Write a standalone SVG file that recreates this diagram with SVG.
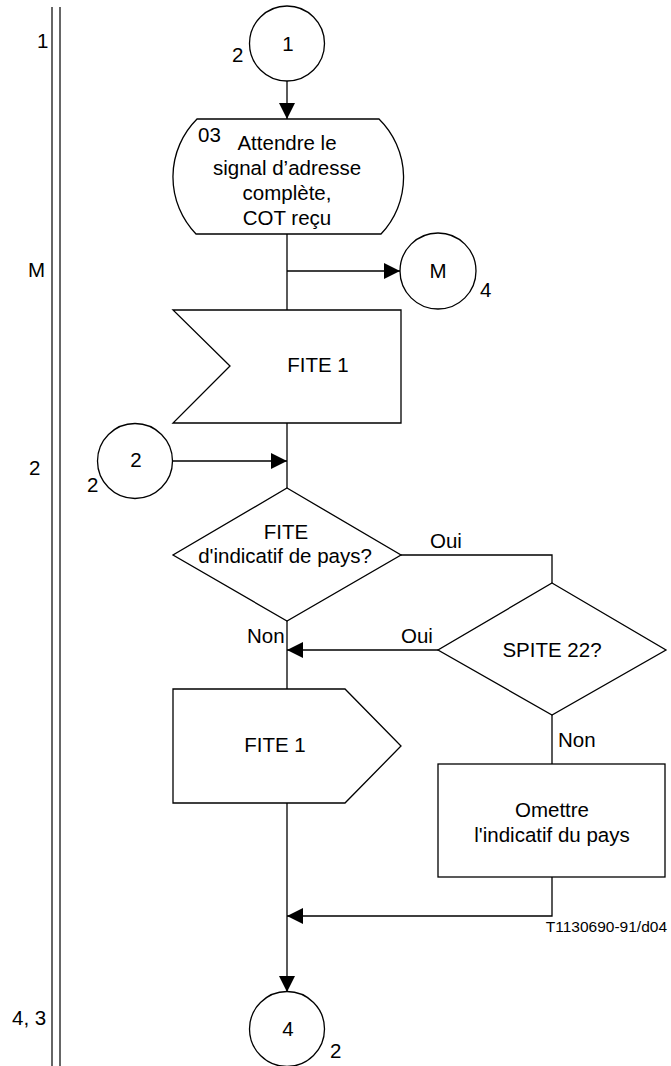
<svg xmlns="http://www.w3.org/2000/svg" width="671" height="1066" viewBox="0 0 671 1066">
<defs>
<style>
.s{fill:#fff;stroke:#000;stroke-width:1.3}
.c{fill:none;stroke:#000;stroke-width:1.3}
.t{font-family:"Liberation Sans",Arial,sans-serif;font-size:20.5px;fill:#000}
.m{text-anchor:middle}
.e{text-anchor:end}
.sm{font-family:"Liberation Sans",Arial,sans-serif;font-size:15.5px;fill:#000}
</style>
<marker id="ah" markerUnits="userSpaceOnUse" markerWidth="16" markerHeight="16" refX="16" refY="8" orient="auto">
<path d="M0,0 L16,8 L0,16 Z" fill="#000"/>
</marker>
</defs>
<rect width="671" height="1066" fill="#fff"/>
<g id="margin">
<line x1="52" y1="7" x2="52" y2="1066" stroke="#333" stroke-width="1.5"/>
<line x1="60" y1="7" x2="60" y2="1066" stroke="#333" stroke-width="1.5"/>
<text class="t" x="37" y="48">1</text>
<text class="t" x="28" y="277">M</text>
<text class="t" x="29" y="475">2</text>
<text class="t" x="12" y="1025">4, 3</text>
</g>
<g id="connectors">
<line class="c" x1="287" y1="81" x2="287" y2="119" marker-end="url(#ah)"/>
<line class="c" x1="287" y1="234" x2="287" y2="310"/>
<line class="c" x1="287" y1="271" x2="400" y2="271" marker-end="url(#ah)"/>
<line class="c" x1="287" y1="423" x2="287" y2="488"/>
<line class="c" x1="173" y1="461" x2="287" y2="461" marker-end="url(#ah)"/>
<polyline class="c" points="401,555 552,555 552,583"/>
<line class="c" x1="438" y1="650" x2="287" y2="650" marker-end="url(#ah)"/>
<line class="c" x1="287" y1="621" x2="287" y2="689"/>
<line class="c" x1="552" y1="715" x2="552" y2="764"/>
<polyline class="c" points="552,877 552,916 287,916" marker-end="url(#ah)"/>
<line class="c" x1="287" y1="803" x2="287" y2="992" marker-end="url(#ah)"/>
<text class="t" x="430" y="548">Oui</text>
<text class="t" x="401" y="643">Oui</text>
<text class="t" x="247" y="643">Non</text>
<text class="t" x="558" y="747">Non</text>
</g>
<g id="start1">
<circle class="s" cx="287" cy="43.5" r="37.5"/>
<text class="t m" x="288" y="51">1</text>
<text class="t" x="232" y="62">2</text>
</g>
<g id="wait03">
<path class="s" d="M197,119 H379 A82,82 0 0 1 381,234 H196 A82,82 0 0 1 197,119 Z"/>
<text class="t" x="198" y="142">03</text>
<text class="t m" x="287" y="150">Attendre le</text>
<text class="t m" x="287" y="175">signal d’adresse</text>
<text class="t m" x="287" y="200">complète,</text>
<text class="t m" x="287" y="225">COT reçu</text>
</g>
<g id="connM">
<circle class="s" cx="438" cy="271" r="38"/>
<text class="t m" x="438" y="278">M</text>
<text class="t" x="480" y="297">4</text>
</g>
<g id="input1">
<path class="s" d="M173,310 H401 V423 H173 L230,366 Z"/>
<text class="t m" x="318" y="372">FITE 1</text>
</g>
<g id="conn2">
<circle class="s" cx="135" cy="461" r="37.5"/>
<text class="t m" x="136" y="467">2</text>
<text class="t" x="87" y="492">2</text>
</g>
<g id="dec1">
<path class="s" d="M287,488 L401,555 L287,621 L173,555 Z"/>
<text class="t m" x="286" y="539">FITE</text>
<text class="t m" x="285" y="563">d'indicatif de pays?</text>
</g>
<g id="dec2">
<path class="s" d="M552,583 L666,650 L552,715 L438,650 Z"/>
<text class="t m" x="552" y="657">SPITE 22?</text>
</g>
<g id="output1">
<path class="s" d="M173,689 H345 L401,746 L345,803 H173 Z"/>
<text class="t m" x="275" y="752">FITE 1</text>
</g>
<g id="task">
<rect class="s" x="438" y="764" width="227" height="113"/>
<text class="t m" x="552" y="817">Omettre</text>
<text class="t m" x="552" y="842">l'indicatif du pays</text>
</g>
<g id="end4">
<circle class="s" cx="287" cy="1029" r="37.5"/>
<text class="t m" x="288" y="1036">4</text>
<text class="t" x="330" y="1058">2</text>
</g>
<text class="sm e" x="667" y="932">T1130690-91/d04</text>
</svg>
